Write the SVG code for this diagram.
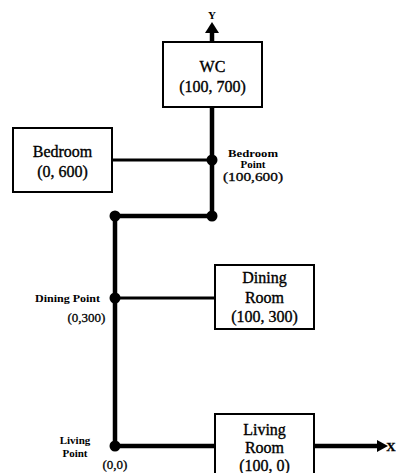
<svg xmlns="http://www.w3.org/2000/svg" width="396" height="473" viewBox="0 0 396 473">
<style>
.box{fill:#fff;stroke:#000;stroke-width:2}
.lbl{font-family:"Liberation Serif","Times New Roman",serif;font-size:16px;text-anchor:middle;fill:#000;stroke:#000;stroke-width:0.35}
.sm{font-family:"Liberation Serif","Times New Roman",serif;font-size:11px;font-weight:bold;text-anchor:middle;fill:#000}
.co{font-family:"Liberation Serif","Times New Roman",serif;font-size:13px;text-anchor:middle;fill:#000;stroke:#000;stroke-width:0.3}
.thick{stroke:#000;stroke-width:4.5;fill:none}
.thin{stroke:#000;stroke-width:3;fill:none}
.dot{fill:#000}
</style>
<g id="connectors">
<line class="thick" x1="212" y1="30" x2="212" y2="216"/>
<polygon points="212,22 205,33 219,33" fill="#000"/>
<line class="thick" x1="115" y1="216" x2="212" y2="216"/>
<line class="thick" x1="115" y1="216" x2="115" y2="446"/>
<line class="thick" x1="115" y1="446" x2="380" y2="446"/>
<polygon points="388,446 377,440 377,452" fill="#000"/>
<line class="thin" x1="112" y1="160" x2="212" y2="160"/>
<line class="thin" x1="115" y1="298" x2="215" y2="298"/>
<circle class="dot" cx="212" cy="160" r="5.5"/>
<circle class="dot" cx="212" cy="216" r="5.5"/>
<circle class="dot" cx="115" cy="216" r="5.5"/>
<circle class="dot" cx="115" cy="298" r="5.5"/>
<circle class="dot" cx="115" cy="446" r="5.5"/>
</g>
<g id="axis-y"><text class="sm" x="212" y="19" font-size="12">Y</text></g>
<g id="axis-x"><text class="co" x="391" y="451" text-anchor="start" font-weight="bold">X</text></g>
<g id="wc">
<rect class="box" x="163" y="42" width="99" height="65"/>
<text class="lbl" x="212.5" y="72">WC</text>
<text class="lbl" x="212.5" y="92">(100, 700)</text>
</g>
<g id="bedroom">
<rect class="box" x="13" y="128" width="99" height="64"/>
<text class="lbl" x="62.5" y="157">Bedroom</text>
<text class="lbl" x="62.5" y="177">(0, 600)</text>
</g>
<g id="bedroom-point">
<text class="sm" x="253" y="157" textLength="50" lengthAdjust="spacingAndGlyphs">Bedroom</text>
<text class="sm" x="253" y="168">Point</text>
<text class="co" x="253" y="181" font-size="12" textLength="60" lengthAdjust="spacingAndGlyphs">(100,600)</text>
</g>
<g id="dining-point">
<text class="sm" x="67.5" y="302" font-size="12" textLength="65" lengthAdjust="spacingAndGlyphs">Dining Point</text>
<text class="co" x="86.5" y="322" font-size="14">(0,300)</text>
</g>
<g id="living-point">
<text class="sm" x="75" y="444" font-size="13">Living</text>
<text class="sm" x="75" y="457" font-size="13">Point</text>
<text class="co" x="115" y="469" font-size="14">(0,0)</text>
</g>
<g id="dining-room">
<rect class="box" x="215" y="265" width="99" height="64"/>
<text class="lbl" x="264.5" y="283">Dining</text>
<text class="lbl" x="264.5" y="303">Room</text>
<text class="lbl" x="264.5" y="322">(100, 300)</text>
</g>
<g id="living-room">
<rect class="box" x="215" y="414" width="99" height="70"/>
<text class="lbl" x="264.5" y="435">Living</text>
<text class="lbl" x="264.5" y="453">Room</text>
<text class="lbl" x="264.5" y="471">(100, 0)</text>
</g>
</svg>
